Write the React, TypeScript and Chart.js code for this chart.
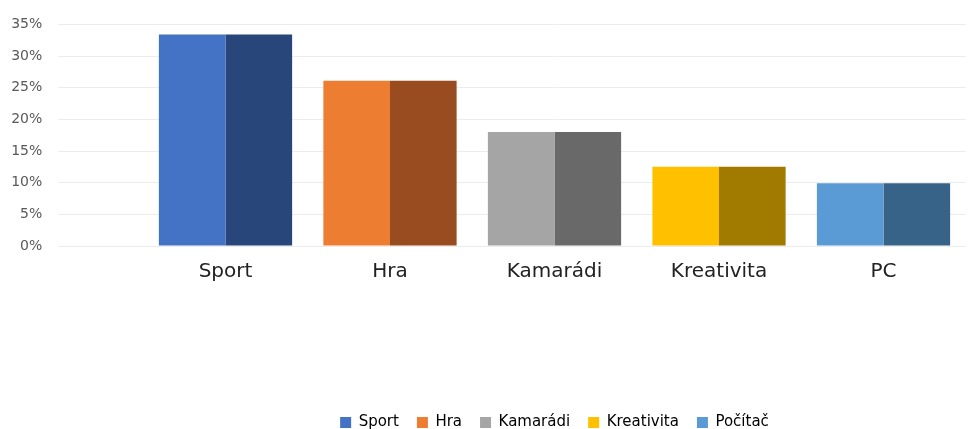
import React, { useEffect, useRef } from "react";
import { Chart, registerables } from "chart.js";

Chart.register(...registerables);

const categories = ["Sport", "Hra", "Kamarádi", "Kreativita", "PC"];
const legendNames = ["Sport", "Hra", "Kamarádi", "Kreativita", "Počítač"];
const valuesLight = [33.4, 26.1, 18.0, 12.5, 9.9];
const valuesDark = [33.4, 26.1, 18.0, 12.5, 9.9];
const lightColors = ["#4472C4", "#ED7D31", "#A5A5A5", "#FFC000", "#5B9BD5"];
const darkColors = ["#284679", "#984C1F", "#696969", "#A17B00", "#386388"];
const yMin = 0;
const yMax = 35;
const yStep = 5;

export default function App() {
  const canvasRef = useRef<HTMLCanvasElement | null>(null);

  useEffect(() => {
    if (!canvasRef.current) return;
    const chart = new Chart(canvasRef.current, {
      type: "bar",
      data: {
        labels: categories,
        datasets: [
          {
            label: "A",
            data: valuesLight,
            backgroundColor: lightColors,
            borderWidth: 0,
            categoryPercentage: 0.81,
            barPercentage: 1,
          },
          {
            label: "B",
            data: valuesDark,
            backgroundColor: darkColors,
            borderWidth: 0,
            categoryPercentage: 0.81,
            barPercentage: 1,
          },
        ],
      },
      options: {
        animation: false,
        responsive: true,
        maintainAspectRatio: false,
        layout: { padding: { top: 22, right: 7.25, bottom: -11, left: 0 } },
        plugins: {
          tooltip: { enabled: false },
          legend: {
            position: "bottom",
            fullSize: false,
            onClick: () => {},
            labels: {
              font: { family: "DejaVu Sans", size: 15 },
              color: "#595959",
              boxWidth: 11,
              boxHeight: 11,
              padding: 18,
              generateLabels: () =>
                legendNames.map((t, i) => ({
                  text: t,
                  fillStyle: lightColors[i],
                  strokeStyle: lightColors[i],
                  lineWidth: 0,
                  hidden: false,
                  datasetIndex: 0,
                  index: i,
                })),
            },
          },
        },
        scales: {
          x: {
            grid: { display: false, drawTicks: false },
            border: { display: false },
            ticks: {
              font: { family: "DejaVu Sans", size: 20 },
              color: "#222222",
              padding: 14,
              maxRotation: 0,
              autoSkip: false,
            },
            afterFit: (s: any) => {
              s.height = 151;
            },
          },
          y: {
            min: yMin,
            max: yMax,
            ticks: {
              stepSize: yStep,
              callback: (v: any) => v + "%",
              font: { family: "DejaVu Sans", size: 14 },
              color: "#595959",
              padding: 16,
            },
            grid: {
              color: "#ececec",
              tickColor: "#ececec",
              drawTicks: true,
              tickLength: 85,
            },
            border: { display: false },
            afterFit: (s: any) => {
              s.width = 143.25;
            },
          },
        },
      },
    });
    return () => chart.destroy();
  }, []);

  return (
    <div style={{ position: "fixed", left: 0, top: 0, width: 973, height: 429, background: "#fff" }}>
      <canvas ref={canvasRef} />
    </div>
  );
}
